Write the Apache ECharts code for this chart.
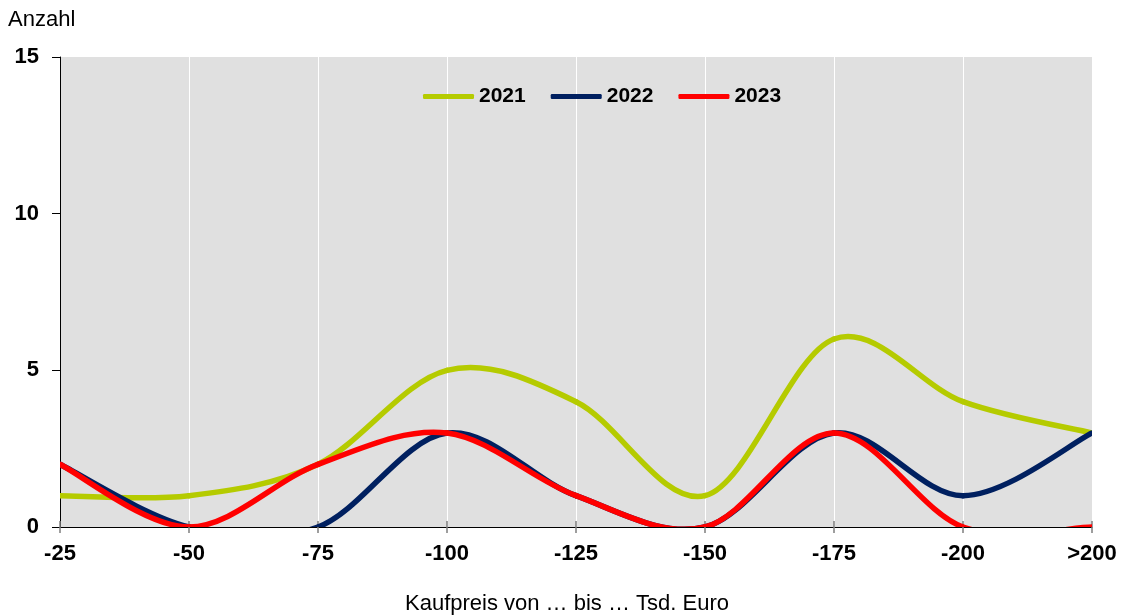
<!DOCTYPE html>
<html>
<head>
<meta charset="utf-8">
<script src="https://cdn.jsdelivr.net/npm/echarts@6/dist/echarts.min.js"></script>
<style>
  html, body { margin: 0; padding: 0; background: #ffffff; }
  #chart { width: 1121px; height: 615px; }
</style>
</head>
<body>
<div id="chart"></div>
<script>
// Purchase price bands (thousand euro) and number of sales per year
const categories = ['-25', '-50', '-75', '-100', '-125', '-150', '-175', '-200', '>200'];
const count2021 = [1, 1, 2, 5, 4, 1, 6, 4, 3];
const count2022 = [2, 0, 0, 3, 1, 0, 3, 1, 3];
const count2023 = [2, 0, 2, 3, 1, 0, 3, 0, 0];

const seriesNames = ['2021', '2022', '2023'];
const seriesValues = [count2021, count2022, count2023];
const seriesColors = ['#b5cb00', '#002060', '#ff0000'];

const FONT = '"Liberation Sans", Arial, sans-serif';

// Smoothed line: cubic Bezier segments whose control points sit 1/6 of the
// neighbour-to-neighbour vector away from each point (end points repeated).
function smoothSegment(values, color) {
  const last = values.length - 1;
  return function (params, api) {
    const i = params.dataIndex;
    if (i >= last) return null;
    const pt = function (k) {
      const j = Math.max(0, Math.min(last, k));
      return api.coord([j, values[j]]);
    };
    const p0 = pt(i - 1), p1 = pt(i), p2 = pt(i + 1), p3 = pt(i + 2);
    return {
      type: 'bezierCurve',
      shape: {
        x1: p1[0], y1: p1[1],
        x2: p2[0], y2: p2[1],
        cpx1: p1[0] + (p2[0] - p0[0]) / 6,
        cpy1: p1[1] + (p2[1] - p0[1]) / 6,
        cpx2: p2[0] - (p3[0] - p1[0]) / 6,
        cpy2: p2[1] - (p3[1] - p1[1]) / 6
      },
      style: { stroke: color, lineWidth: 5.5, fill: 'none', lineCap: 'round' }
    };
  };
}

const chart = echarts.init(document.getElementById('chart'), null, { renderer: 'canvas' });

const labelStyle = { color: '#000000', fontFamily: FONT, fontSize: 22, fontWeight: 'bold' };

chart.setOption({
  animation: false,
  backgroundColor: '#ffffff',
  grid: {
    left: 60, right: 29, top: 57, bottom: 88,
    show: true, backgroundColor: '#e0e0e0', borderWidth: 0
  },
  legend: {
    top: 81,
    left: 418,
    itemWidth: 51,
    itemHeight: 5,
    itemGap: 25,
    textStyle: { color: '#000000', fontFamily: FONT, fontSize: 21, fontWeight: 'bold' },
    data: seriesNames.map(function (n, k) {
      return { name: n, icon: 'roundRect', itemStyle: { color: seriesColors[k], borderWidth: 0 } };
    })
  },
  xAxis: [{
    type: 'category',
    data: categories,
    boundaryGap: false,
    axisLine: { show: true, onZero: false, lineStyle: { color: '#000000', width: 1 } },
    axisTick: { show: true, alignWithLabel: true, length: 6, lineStyle: { color: '#7f7f7f', width: 1.5 } },
    axisLabel: Object.assign({ interval: 0, margin: 16 }, labelStyle),
    splitLine: { show: true, lineStyle: { color: '#ffffff', width: 1 } }
  }, {
    // inner half of the crossing tick marks
    type: 'category',
    data: categories,
    boundaryGap: false,
    position: 'bottom',
    axisLine: { show: false },
    axisTick: { show: true, inside: true, length: 6, lineStyle: { color: '#7f7f7f', width: 1.5 } },
    axisLabel: { show: false },
    splitLine: { show: false }
  }],
  yAxis: {
    type: 'value',
    min: 0, max: 15, interval: 5,
    axisLine: { show: true, lineStyle: { color: '#000000', width: 1 } },
    axisTick: { show: true, length: 8, lineStyle: { color: '#000000', width: 1 } },
    axisLabel: Object.assign({ margin: 21 }, labelStyle),
    splitLine: { show: false }
  },
  graphic: [
    {
      type: 'text', left: 8, top: 9,
      style: { text: 'Anzahl', fill: '#000000', font: '22px ' + FONT }
    },
    {
      type: 'text', x: 567, y: 604,
      style: { text: 'Kaufpreis von … bis … Tsd. Euro', fill: '#000000', font: '22px ' + FONT,
               textAlign: 'center', textVerticalAlign: 'middle' }
    }
  ],
  series: seriesNames.map(function (n, k) {
    return {
      name: n,
      type: 'custom',
      clip: true,
      itemStyle: { color: seriesColors[k] },
      encode: { x: 0, y: 1 },
      data: seriesValues[k].map(function (v, i) { return [i, v]; }),
      renderItem: smoothSegment(seriesValues[k], seriesColors[k]),
      z: 2 + k
    };
  })
});
</script>
</body>
</html>
